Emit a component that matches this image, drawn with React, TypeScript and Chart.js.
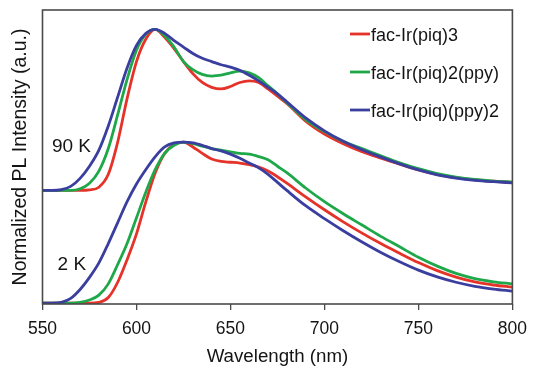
import React, { useEffect, useRef } from "react";
import { Chart, registerables } from "chart.js";

Chart.register(...registerables);

// Wavelength grid (nm)
const wavelengths = [
  550, 555, 560, 565, 570, 575, 580, 585, 590, 595, 600, 605, 610, 615, 620, 625,
  630, 635, 640, 645, 650, 655, 660, 665, 670, 675, 680, 690, 700, 710, 720, 730,
  740, 750, 760, 770, 780, 790, 800,
];

// 90 K normalized PL spectra
const red90 = [
  0, 0, 0, 0, 0, 0.003, 0.02, 0.1, 0.3, 0.57, 0.8, 0.94, 1.0, 0.95, 0.88, 0.8,
  0.725, 0.67, 0.64, 0.63, 0.645, 0.67, 0.68, 0.67, 0.63, 0.585, 0.54, 0.43, 0.35, 0.29, 0.24, 0.2,
  0.163, 0.128, 0.1, 0.08, 0.066, 0.057, 0.05,
];
const green90 = [
  0, 0, 0, 0, 0.01, 0.045, 0.12, 0.26, 0.47, 0.69, 0.87, 0.97, 1.0, 0.96, 0.89, 0.8,
  0.75, 0.72, 0.71, 0.715, 0.73, 0.74, 0.73, 0.7, 0.65, 0.6, 0.545, 0.44, 0.365, 0.305, 0.26, 0.215,
  0.172, 0.135, 0.105, 0.083, 0.068, 0.058, 0.052,
];
const blue90 = [
  0, 0, 0.005, 0.025, 0.075, 0.15, 0.25, 0.4, 0.58, 0.76, 0.9, 0.975, 1.0, 0.975, 0.93, 0.89,
  0.85, 0.82, 0.8, 0.78, 0.765, 0.745, 0.715, 0.68, 0.64, 0.6, 0.55, 0.45, 0.37, 0.305, 0.252, 0.207,
  0.165, 0.127, 0.097, 0.077, 0.063, 0.054, 0.047,
];

// 2 K normalized PL spectra
const red2 = [
  0, 0, 0, 0, 0, 0, 0.005, 0.035, 0.13, 0.27, 0.43, 0.63, 0.81, 0.93, 0.985, 1.0,
  0.97, 0.93, 0.895, 0.88, 0.875, 0.87, 0.86, 0.845, 0.82, 0.785, 0.745, 0.66, 0.58, 0.505, 0.435, 0.37,
  0.31, 0.252, 0.202, 0.162, 0.132, 0.113, 0.1,
];
const green2 = [
  0, 0, 0, 0, 0.005, 0.02, 0.05, 0.12, 0.24, 0.37, 0.53, 0.69, 0.83, 0.93, 0.98, 1.0,
  0.99, 0.975, 0.96, 0.95, 0.94, 0.93, 0.925, 0.91, 0.89, 0.85, 0.81, 0.715, 0.63, 0.555, 0.485, 0.415,
  0.35, 0.285, 0.23, 0.185, 0.153, 0.133, 0.12,
];
const blue2 = [
  0, 0, 0.005, 0.03, 0.085, 0.16, 0.25, 0.37, 0.5, 0.63, 0.74, 0.83, 0.91, 0.97, 0.995, 1.0,
  0.995, 0.98, 0.96, 0.945, 0.925, 0.9, 0.87, 0.84, 0.8, 0.75, 0.7, 0.605, 0.525, 0.45, 0.38, 0.315,
  0.257, 0.205, 0.163, 0.13, 0.105, 0.088, 0.075,
];

const offset90 = 0.7;
const xTicks = [550, 600, 650, 700, 750, 800];
const seriesLabels = ["fac-Ir(piq)3", "fac-Ir(piq)2(ppy)", "fac-Ir(piq)(ppy)2"];
const seriesColors = ["#e5332a", "#1fa84a", "#3a3f9f"];
const tempLabels = ["90 K", "2 K"];

const FONT = "'Liberation Sans', Arial, Helvetica, sans-serif";
const TEXT = "#141414";

function toPoints(vals: number[], off: number) {
  return wavelengths.map((w, i) => ({ x: w, y: vals[i] + off }));
}

const overlayPlugin = {
  id: "overlay",
  afterDraw(chart: any) {
    const { ctx, chartArea } = chart;
    const { left, top, right, bottom } = chartArea;
    const xs = chart.scales.x;
    const ys = chart.scales.y;
    ctx.save();
    // frame
    ctx.strokeStyle = "#4a4a4a";
    ctx.lineWidth = 1.6;
    ctx.strokeRect(left, top, right - left, bottom - top);
    // legend
    ctx.font = `18px ${FONT}`;
    ctx.textBaseline = "middle";
    ctx.textAlign = "left";
    const rows = [34, 72, 110];
    seriesLabels.forEach((lab, i) => {
      const y = rows[i];
      ctx.strokeStyle = seriesColors[i];
      ctx.lineWidth = 2.8;
      ctx.beginPath();
      ctx.moveTo(350, y);
      ctx.lineTo(370, y);
      ctx.stroke();
      ctx.fillStyle = TEXT;
      ctx.fillText(lab, 371, y + 2);
    });
    // temperature labels
    ctx.font = `19px ${FONT}`;
    ctx.fillStyle = TEXT;
    ctx.fillText(tempLabels[0], xs.getPixelForValue(555), ys.getPixelForValue(offset90 + 0.27));
    ctx.fillText(tempLabels[1], xs.getPixelForValue(558), ys.getPixelForValue(0.24));
    ctx.restore();
  },
};

export default function App() {
  const ref = useRef<HTMLCanvasElement | null>(null);
  useEffect(() => {
    if (!ref.current) return;
    const mk = (vals: number[], off: number, ci: number, order: number) => ({
      data: toPoints(vals, off),
      borderColor: seriesColors[ci],
      backgroundColor: seriesColors[ci],
      borderWidth: 2.8,
      pointRadius: 0,
      fill: false,
      cubicInterpolationMode: "monotone" as const,
      order,
    });
    const chart = new Chart(ref.current, {
      type: "line",
      data: {
        datasets: [
          mk(blue90, offset90, 2, 1),
          mk(green90, offset90, 1, 2),
          mk(red90, offset90, 0, 3),
          mk(blue2, 0, 2, 1),
          mk(green2, 0, 1, 2),
          mk(red2, 0, 0, 3),
        ],
      },
      options: {
        animation: false,
        responsive: false,
        layout: { padding: { top: 10, right: 17.5, left: 0, bottom: 0 } },
        plugins: { legend: { display: false }, tooltip: { enabled: false } },
        scales: {
          x: {
            type: "linear",
            min: 550,
            max: 800,
            afterBuildTicks: (s: any) => {
              s.ticks = xTicks.map((v) => ({ value: v }));
            },
            afterFit: (s: any) => {
              s.height = 66;
            },
            ticks: {
              font: { family: FONT, size: 17.5 },
              color: TEXT,
              padding: 9,
              maxRotation: 0,
            },
            grid: {
              display: true,
              drawOnChartArea: false,
              drawTicks: true,
              tickLength: 6,
              color: "#4a4a4a",
              lineWidth: 1.3,
            },
            border: { display: false },
            title: {
              display: true,
              text: "Wavelength (nm)",
              font: { family: FONT, size: 18.7 },
              color: TEXT,
              padding: { top: 0, bottom: 2 },
            },
          },
          y: {
            type: "linear",
            min: -0.005,
            max: 1.82,
            afterFit: (s: any) => {
              s.width = 42.5;
            },
            ticks: { display: false },
            grid: { display: false },
            border: { display: false },
            title: {
              display: true,
              text: "Normalized PL Intensity (a.u.)",
              font: { family: FONT, size: 19.5 },
              color: TEXT,
              padding: { top: 9, bottom: 0 },
            },
          },
        },
      },
      plugins: [overlayPlugin],
    });
    return () => chart.destroy();
  }, []);
  return (
    <div style={{ position: "fixed", left: 0, top: 0, width: 536, height: 370, background: "#fff" }}>
      <canvas ref={ref} width={536} height={370} />
    </div>
  );
}
